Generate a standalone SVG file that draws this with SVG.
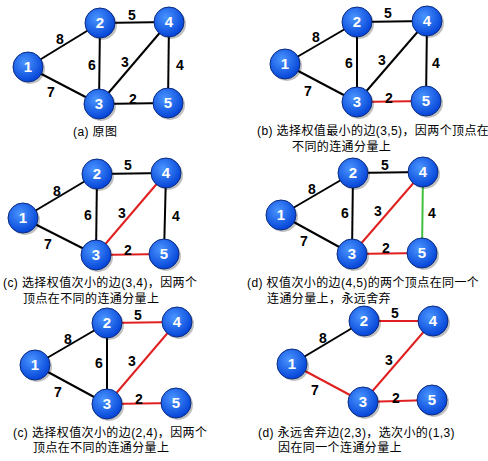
<svg xmlns="http://www.w3.org/2000/svg" width="488" height="461" viewBox="0 0 488 461">
<style>
.e{stroke:#000;stroke-width:2;fill:none}
.r{stroke:#e02020;stroke-width:2;fill:none}
.g{stroke:#40c040;stroke-width:2;fill:none}
.w{font-family:"Liberation Sans",Arial,sans-serif;font-weight:bold;font-size:14px;fill:#000;text-anchor:middle}
.n circle.b{fill:url(#ng);stroke:#0a2a80;stroke-width:1}
.n circle.s{fill:#000;opacity:0.25}
.n text{font-family:"Liberation Sans",Arial,sans-serif;font-weight:bold;font-size:15px;fill:#fff;text-anchor:middle}
.c{font-family:"Liberation Sans","Noto Sans CJK SC",sans-serif;font-size:12px;fill:#000;letter-spacing:0.4px}
</style>
<defs>
<radialGradient id="ng" cx="0.4" cy="0.35" r="0.65">
<stop offset="0" stop-color="#4a95ff"/>
<stop offset="1" stop-color="#0545d8"/>
</radialGradient>
</defs>
<rect width="488" height="461" fill="#fff"/>
<g id="connectors">
<line class="e" x1="28" y1="67" x2="100" y2="23"/>
<line class="e" x1="28" y1="67" x2="99" y2="104"/>
<line class="e" x1="100" y1="23" x2="169" y2="22"/>
<line class="e" x1="100" y1="23" x2="99" y2="104"/>
<line class="e" x1="99" y1="104" x2="169" y2="22"/>
<line class="e" x1="169" y1="22" x2="168" y2="103"/>
<line class="e" x1="99" y1="104" x2="168" y2="103"/>
<line class="e" x1="285" y1="64" x2="357" y2="22"/>
<line class="e" x1="285" y1="64" x2="357" y2="102"/>
<line class="e" x1="357" y1="22" x2="427" y2="21"/>
<line class="e" x1="357" y1="22" x2="357" y2="102"/>
<line class="e" x1="357" y1="102" x2="427" y2="21"/>
<line class="e" x1="427" y1="21" x2="426" y2="101"/>
<line class="r" x1="357" y1="102" x2="426" y2="101"/>
<line class="e" x1="23" y1="218" x2="97" y2="174"/>
<line class="e" x1="23" y1="218" x2="96" y2="255"/>
<line class="e" x1="97" y1="174" x2="166" y2="173"/>
<line class="e" x1="97" y1="174" x2="96" y2="255"/>
<line class="r" x1="96" y1="255" x2="166" y2="173"/>
<line class="e" x1="166" y1="173" x2="164" y2="254"/>
<line class="r" x1="96" y1="255" x2="164" y2="254"/>
<line class="e" x1="281" y1="215" x2="353" y2="173"/>
<line class="e" x1="281" y1="215" x2="352" y2="254"/>
<line class="e" x1="353" y1="173" x2="423" y2="172"/>
<line class="e" x1="353" y1="173" x2="352" y2="254"/>
<line class="r" x1="352" y1="254" x2="423" y2="172"/>
<line class="g" x1="423" y1="172" x2="422" y2="253"/>
<line class="r" x1="352" y1="254" x2="422" y2="253"/>
<line class="e" x1="35" y1="365" x2="107" y2="323"/>
<line class="e" x1="35" y1="365" x2="107" y2="404"/>
<line class="r" x1="107" y1="323" x2="177" y2="322"/>
<line class="e" x1="107" y1="323" x2="107" y2="404"/>
<line class="r" x1="107" y1="404" x2="177" y2="322"/>
<line class="r" x1="107" y1="404" x2="176" y2="403"/>
<line class="e" x1="292" y1="364" x2="364" y2="321"/>
<line class="r" x1="292" y1="364" x2="363" y2="402"/>
<line class="r" x1="364" y1="321" x2="433" y2="321"/>
<line class="r" x1="363" y1="402" x2="433" y2="321"/>
<line class="r" x1="363" y1="402" x2="432" y2="400"/>
</g>
<g id="weights">
<text class="w" x="60" y="44">8</text><text class="w" x="132" y="20">5</text><text class="w" x="92" y="70">6</text><text class="w" x="125" y="67">3</text><text class="w" x="180" y="70">4</text><text class="w" x="51" y="97">7</text><text class="w" x="133" y="104">2</text>
<text class="w" x="316" y="42">8</text><text class="w" x="388" y="18">5</text><text class="w" x="349" y="68">6</text><text class="w" x="382" y="65">3</text><text class="w" x="436" y="68">4</text><text class="w" x="308" y="96">7</text><text class="w" x="389" y="103">2</text>
<text class="w" x="57" y="196">8</text><text class="w" x="128" y="170">5</text><text class="w" x="88" y="220">6</text><text class="w" x="122" y="218">3</text><text class="w" x="176" y="221">4</text><text class="w" x="48" y="249">7</text><text class="w" x="128" y="255">2</text>
<text class="w" x="312" y="194">8</text><text class="w" x="385" y="170">5</text><text class="w" x="345" y="218">6</text><text class="w" x="378" y="216">3</text><text class="w" x="432" y="218">4</text><text class="w" x="304" y="246">7</text><text class="w" x="386" y="253">2</text>
<text class="w" x="68" y="344">8</text><text class="w" x="138" y="320">5</text><text class="w" x="99" y="368">6</text><text class="w" x="132" y="366">3</text><text class="w" x="58" y="397">7</text><text class="w" x="139" y="404">2</text>
<text class="w" x="323" y="343">8</text><text class="w" x="395" y="318">5</text><text class="w" x="389" y="365">3</text><text class="w" x="315" y="395">7</text><text class="w" x="396" y="403">2</text>
</g>
<g id="a1" class="n"><circle class="s" cx="30" cy="69" r="15"/><circle class="b" cx="28" cy="67" r="15"/><text x="28" y="72">1</text></g>
<g id="a2" class="n"><circle class="s" cx="102" cy="25" r="15"/><circle class="b" cx="100" cy="23" r="15"/><text x="100" y="28">2</text></g>
<g id="a4" class="n"><circle class="s" cx="171" cy="24" r="15"/><circle class="b" cx="169" cy="22" r="15"/><text x="169" y="27">4</text></g>
<g id="a3" class="n"><circle class="s" cx="101" cy="106" r="15"/><circle class="b" cx="99" cy="104" r="15"/><text x="99" y="109">3</text></g>
<g id="a5" class="n"><circle class="s" cx="170" cy="105" r="15"/><circle class="b" cx="168" cy="103" r="15"/><text x="168" y="108">5</text></g>
<g id="b1" class="n"><circle class="s" cx="287" cy="66" r="15"/><circle class="b" cx="285" cy="64" r="15"/><text x="285" y="69">1</text></g>
<g id="b2" class="n"><circle class="s" cx="359" cy="24" r="15"/><circle class="b" cx="357" cy="22" r="15"/><text x="357" y="27">2</text></g>
<g id="b4" class="n"><circle class="s" cx="429" cy="23" r="15"/><circle class="b" cx="427" cy="21" r="15"/><text x="427" y="26">4</text></g>
<g id="b3" class="n"><circle class="s" cx="359" cy="104" r="15"/><circle class="b" cx="357" cy="102" r="15"/><text x="357" y="107">3</text></g>
<g id="b5" class="n"><circle class="s" cx="428" cy="103" r="15"/><circle class="b" cx="426" cy="101" r="15"/><text x="426" y="106">5</text></g>
<g id="c1" class="n"><circle class="s" cx="25" cy="220" r="15"/><circle class="b" cx="23" cy="218" r="15"/><text x="23" y="223">1</text></g>
<g id="c2" class="n"><circle class="s" cx="99" cy="176" r="15"/><circle class="b" cx="97" cy="174" r="15"/><text x="97" y="179">2</text></g>
<g id="c4" class="n"><circle class="s" cx="168" cy="175" r="15"/><circle class="b" cx="166" cy="173" r="15"/><text x="166" y="178">4</text></g>
<g id="c3" class="n"><circle class="s" cx="98" cy="257" r="15"/><circle class="b" cx="96" cy="255" r="15"/><text x="96" y="260">3</text></g>
<g id="c5" class="n"><circle class="s" cx="166" cy="256" r="15"/><circle class="b" cx="164" cy="254" r="15"/><text x="164" y="259">5</text></g>
<g id="d1" class="n"><circle class="s" cx="283" cy="217" r="15"/><circle class="b" cx="281" cy="215" r="15"/><text x="281" y="220">1</text></g>
<g id="d2" class="n"><circle class="s" cx="355" cy="175" r="15"/><circle class="b" cx="353" cy="173" r="15"/><text x="353" y="178">2</text></g>
<g id="d4" class="n"><circle class="s" cx="425" cy="174" r="15"/><circle class="b" cx="423" cy="172" r="15"/><text x="423" y="177">4</text></g>
<g id="d3" class="n"><circle class="s" cx="354" cy="256" r="15"/><circle class="b" cx="352" cy="254" r="15"/><text x="352" y="259">3</text></g>
<g id="d5" class="n"><circle class="s" cx="424" cy="255" r="15"/><circle class="b" cx="422" cy="253" r="15"/><text x="422" y="258">5</text></g>
<g id="e1" class="n"><circle class="s" cx="37" cy="367" r="15"/><circle class="b" cx="35" cy="365" r="15"/><text x="35" y="370">1</text></g>
<g id="e2" class="n"><circle class="s" cx="109" cy="325" r="15"/><circle class="b" cx="107" cy="323" r="15"/><text x="107" y="328">2</text></g>
<g id="e4" class="n"><circle class="s" cx="179" cy="324" r="15"/><circle class="b" cx="177" cy="322" r="15"/><text x="177" y="327">4</text></g>
<g id="e3" class="n"><circle class="s" cx="109" cy="406" r="15"/><circle class="b" cx="107" cy="404" r="15"/><text x="107" y="409">3</text></g>
<g id="e5" class="n"><circle class="s" cx="178" cy="405" r="15"/><circle class="b" cx="176" cy="403" r="15"/><text x="176" y="408">5</text></g>
<g id="f1" class="n"><circle class="s" cx="294" cy="366" r="15"/><circle class="b" cx="292" cy="364" r="15"/><text x="292" y="369">1</text></g>
<g id="f2" class="n"><circle class="s" cx="366" cy="323" r="15"/><circle class="b" cx="364" cy="321" r="15"/><text x="364" y="326">2</text></g>
<g id="f4" class="n"><circle class="s" cx="435" cy="323" r="15"/><circle class="b" cx="433" cy="321" r="15"/><text x="433" y="326">4</text></g>
<g id="f3" class="n"><circle class="s" cx="365" cy="404" r="15"/><circle class="b" cx="363" cy="402" r="15"/><text x="363" y="407">3</text></g>
<g id="f5" class="n"><circle class="s" cx="434" cy="402" r="15"/><circle class="b" cx="432" cy="400" r="15"/><text x="432" y="405">5</text></g>
<g id="captions">
<text class="c" x="73" y="136">(a) 原图</text>
<text class="c" x="257" y="135">(b) 选择权值最小的边(3,5)，因两个顶点在</text>
<text class="c" x="292" y="151">不同的连通分量上</text>
<text class="c" x="3" y="287">(c) 选择权值次小的边(3,4)，因两个</text>
<text class="c" x="23" y="303">顶点在不同的连通分量上</text>
<text class="c" x="247" y="287">(d) 权值次小的边(4,5)的两个顶点在同一个</text>
<text class="c" x="267" y="303">连通分量上，永远舍弃</text>
<text class="c" x="13" y="437">(c) 选择权值次小的边(2,4)，因两个</text>
<text class="c" x="33" y="452">顶点在不同的连通分量上</text>
<text class="c" x="258" y="437">(d) 永远舍弃边(2,3)，选次小的(1,3)</text>
<text class="c" x="278" y="452">因在同一个连通分量上</text>
</g>
</svg>
